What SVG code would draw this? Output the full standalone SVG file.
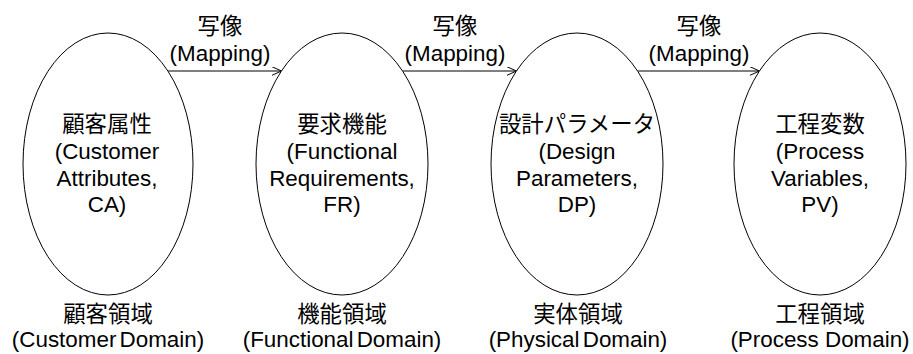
<svg xmlns="http://www.w3.org/2000/svg" width="913" height="354" viewBox="0 0 913 354">
<style>
  text { font-family: "Liberation Sans", "Noto Sans CJK JP", Arial, sans-serif; font-size: 22.4px; fill: #000; text-anchor: middle; }
  .node ellipse { fill: #fff; stroke: #000; stroke-width: 1; }
  .conn line { stroke: #000; stroke-width: 1; fill: none; }
  .tight { word-spacing: -3px; }
</style>
<defs>
  <marker id="arrow" markerWidth="12" markerHeight="10" refX="10" refY="4.5" orient="auto" markerUnits="userSpaceOnUse">
    <path d="M0,0 L10,4.5 L0,9" fill="none" stroke="#000" stroke-width="1"/>
  </marker>
</defs>
<rect width="913" height="354" fill="#fff"/>

<g id="connectors" class="conn">
  <line x1="168" y1="71" x2="281.5" y2="71" marker-end="url(#arrow)"/>
  <line x1="402.5" y1="71" x2="516.5" y2="71" marker-end="url(#arrow)"/>
  <line x1="637.5" y1="71" x2="759.5" y2="71" marker-end="url(#arrow)"/>
</g>

<g id="mapping-labels">
  <text x="220" y="34">写像</text>
  <text x="220" y="61">(Mapping)</text>
  <text x="455" y="34">写像</text>
  <text x="455" y="61">(Mapping)</text>
  <text x="699" y="34">写像</text>
  <text x="699" y="61">(Mapping)</text>
</g>

<g id="node-ca" class="node">
  <ellipse cx="108" cy="164" rx="85" ry="131"/>
  <text x="107" y="132">顧客属性</text>
  <text x="107" y="159">(Customer</text>
  <text x="107" y="186">Attributes,</text>
  <text x="107" y="212">CA)</text>
</g>
<g id="node-fr" class="node">
  <ellipse cx="342" cy="164" rx="86" ry="131"/>
  <text x="342" y="132">要求機能</text>
  <text x="342" y="159">(Functional</text>
  <text x="342" y="186">Requirements,</text>
  <text x="342" y="212">FR)</text>
</g>
<g id="node-dp" class="node">
  <ellipse cx="577" cy="164" rx="86" ry="131"/>
  <text x="577" y="132">設計パラメータ</text>
  <text x="577" y="159">(Design</text>
  <text x="577" y="186">Parameters,</text>
  <text x="577" y="212">DP)</text>
</g>
<g id="node-pv" class="node">
  <ellipse cx="820" cy="164" rx="86" ry="131"/>
  <text x="820" y="132">工程変数</text>
  <text x="820" y="159">(Process</text>
  <text x="820" y="186">Variables,</text>
  <text x="820" y="212">PV)</text>
</g>

<g id="domain-customer">
  <text x="108" y="322">顧客領域</text>
  <text x="108" y="347" class="tight">(Customer Domain)</text>
</g>
<g id="domain-functional">
  <text x="342" y="322">機能領域</text>
  <text x="342" y="347" class="tight">(Functional Domain)</text>
</g>
<g id="domain-physical">
  <text x="578" y="322">実体領域</text>
  <text x="578" y="347" class="tight">(Physical Domain)</text>
</g>
<g id="domain-process">
  <text x="820" y="322">工程領域</text>
  <text x="820" y="347">(Process Domain)</text>
</g>
</svg>
